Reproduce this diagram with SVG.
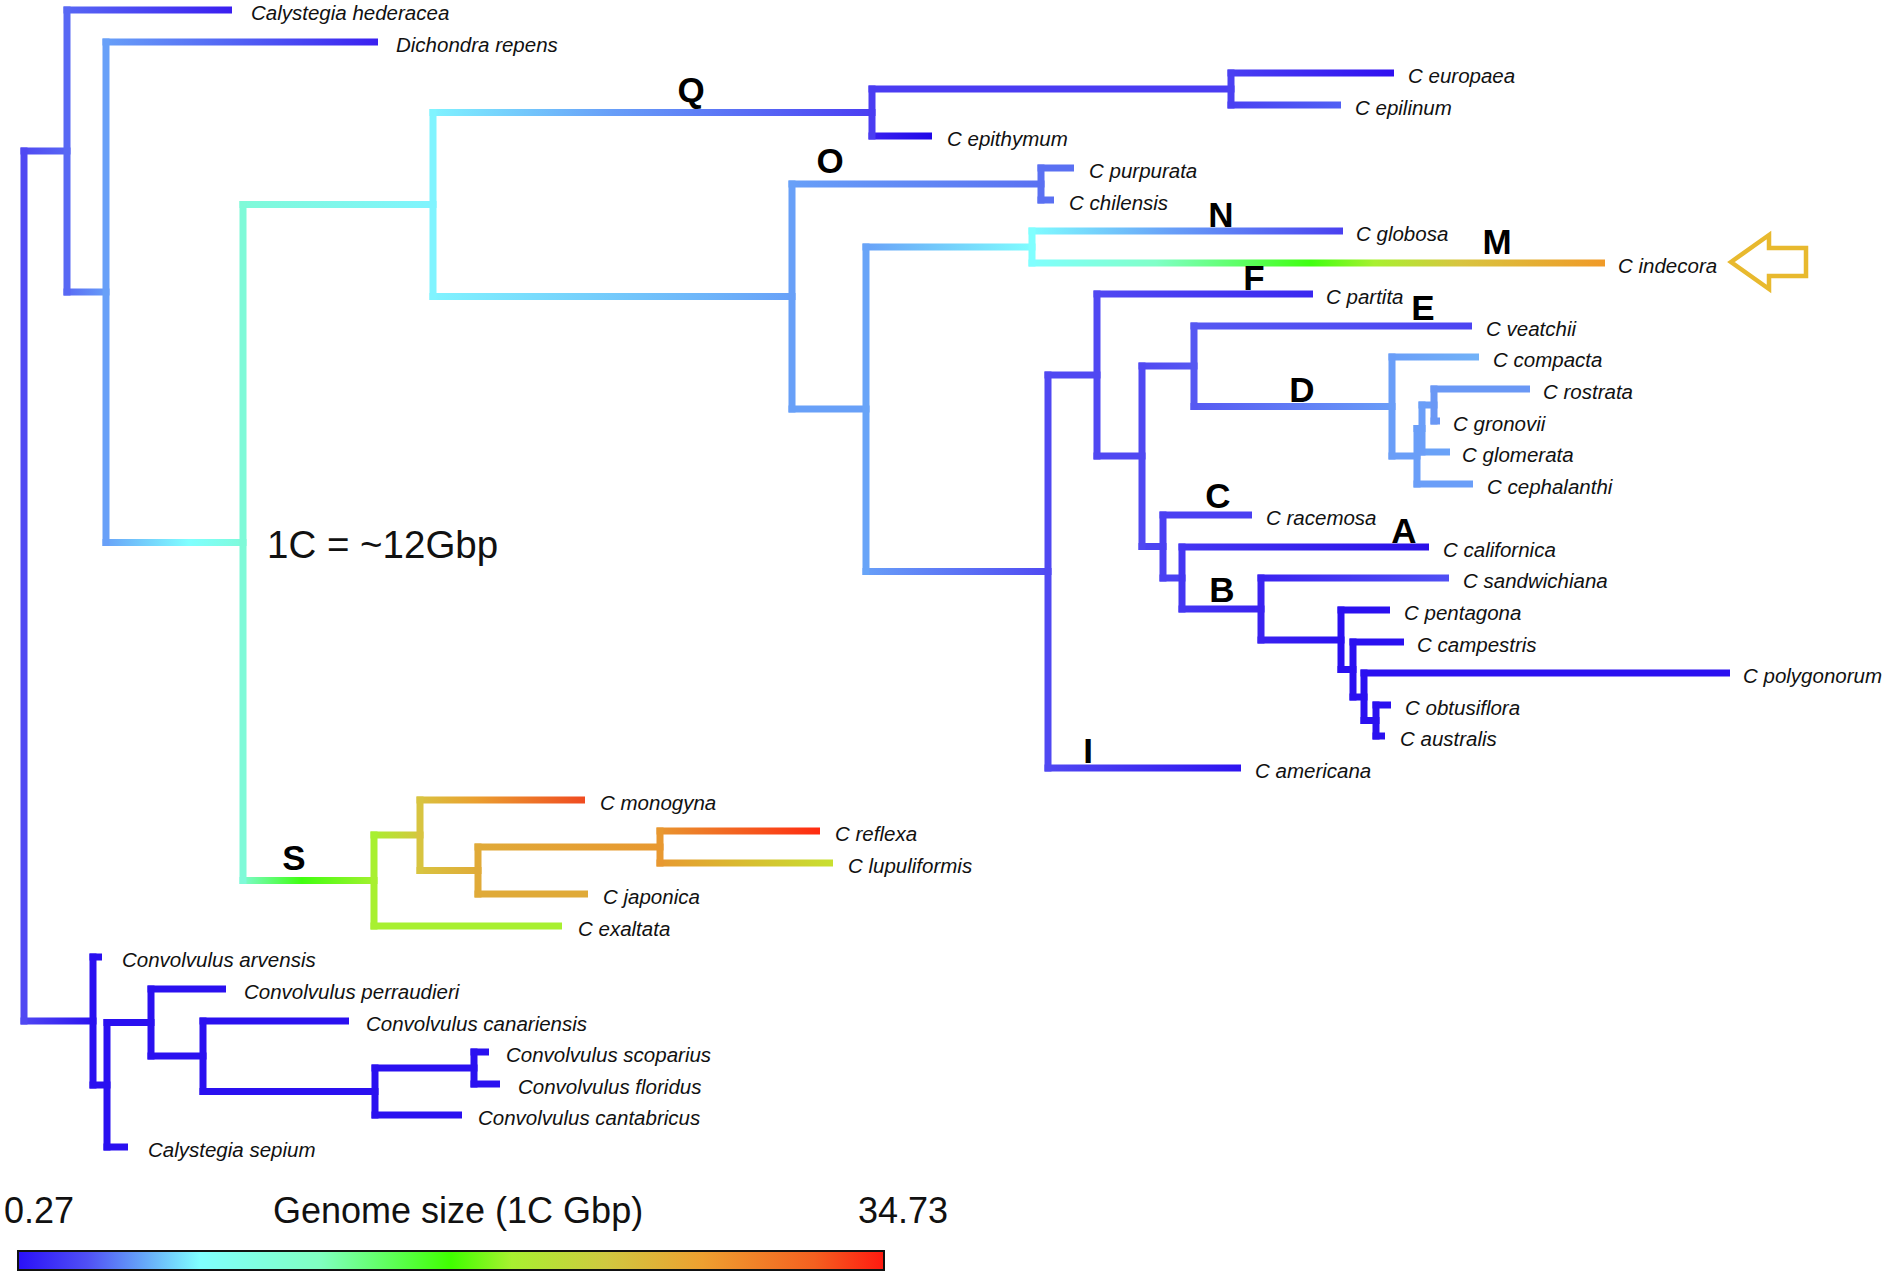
<svg xmlns="http://www.w3.org/2000/svg" width="1889" height="1277" viewBox="0 0 1889 1277">
<style>
.t{font-family:"Liberation Sans",Arial,sans-serif;font-style:italic;font-size:20.5px;fill:#111}
.cl{font-family:"Liberation Sans",Arial,sans-serif;font-weight:bold;font-size:35px;text-anchor:middle;fill:#000}
.lg{font-family:"Liberation Sans",Arial,sans-serif;font-size:36px;fill:#111}
.big{font-family:"Liberation Sans",Arial,sans-serif;font-size:38.5px;fill:#111}
</style>
<defs>
<linearGradient id="bar"><stop offset="0" stop-color="#2a10f8"/><stop offset="0.08" stop-color="#5050f5"/><stop offset="0.14" stop-color="#64a0f8"/><stop offset="0.21" stop-color="#80ffff"/><stop offset="0.35" stop-color="#80ffc0"/><stop offset="0.5" stop-color="#40ff00"/><stop offset="0.57" stop-color="#a8f030"/><stop offset="0.68" stop-color="#d0c840"/><stop offset="0.79" stop-color="#eea030"/><stop offset="0.92" stop-color="#f46020"/><stop offset="1" stop-color="#ff1a10"/></linearGradient>
<linearGradient id="g1"><stop offset="0" stop-color="#5048f2"/><stop offset="1" stop-color="#5868f4"/></linearGradient>
<linearGradient id="g2"><stop offset="0" stop-color="#5868f4"/><stop offset="1" stop-color="#3a1ef0"/></linearGradient>
<linearGradient id="g3"><stop offset="0" stop-color="#5868f4"/><stop offset="1" stop-color="#68a0f8"/></linearGradient>
<linearGradient id="g4"><stop offset="0" stop-color="#68a0f8"/><stop offset="1" stop-color="#3a20f0"/></linearGradient>
<linearGradient id="g5"><stop offset="0" stop-color="#68a0f8"/><stop offset="0.6" stop-color="#80ffff"/><stop offset="1" stop-color="#7ffad8"/></linearGradient>
<linearGradient id="g6"><stop offset="0" stop-color="#7ffad8"/><stop offset="1" stop-color="#80f4ff"/></linearGradient>
<linearGradient id="g7"><stop offset="0" stop-color="#80f4ff"/><stop offset="0.4" stop-color="#68a0f8"/><stop offset="1" stop-color="#4a3cf2"/></linearGradient>
<linearGradient id="g9"><stop offset="0" stop-color="#4a40f2"/><stop offset="1" stop-color="#3010f0"/></linearGradient>
<linearGradient id="g10"><stop offset="0" stop-color="#4a40f2"/><stop offset="1" stop-color="#5060f4"/></linearGradient>
<linearGradient id="g11"><stop offset="0" stop-color="#3a20f0"/><stop offset="1" stop-color="#2008e8"/></linearGradient>
<linearGradient id="g12"><stop offset="0" stop-color="#80f4ff"/><stop offset="1" stop-color="#68a0f8"/></linearGradient>
<linearGradient id="g13"><stop offset="0" stop-color="#68a0f8"/><stop offset="1" stop-color="#5a70f2"/></linearGradient>
<linearGradient id="g17"><stop offset="0" stop-color="#68a0f8"/><stop offset="1" stop-color="#80ffff"/></linearGradient>
<linearGradient id="g18"><stop offset="0" stop-color="#80ffff"/><stop offset="0.45" stop-color="#68a0f8"/><stop offset="1" stop-color="#4a40f0"/></linearGradient>
<linearGradient id="g19"><stop offset="0" stop-color="#80ffff"/><stop offset="0.22" stop-color="#80ffc8"/><stop offset="0.49" stop-color="#40ff10"/><stop offset="0.6" stop-color="#a8f030"/><stop offset="0.75" stop-color="#d8c440"/><stop offset="1" stop-color="#f09a28"/></linearGradient>
<linearGradient id="g20"><stop offset="0" stop-color="#68a0f8"/><stop offset="1" stop-color="#5048f2"/></linearGradient>
<linearGradient id="g22"><stop offset="0" stop-color="#5048f2"/><stop offset="1" stop-color="#2e14f0"/></linearGradient>
<linearGradient id="g23"><stop offset="0" stop-color="#5048f2"/><stop offset="1" stop-color="#3a28f0"/></linearGradient>
<linearGradient id="g25"><stop offset="0" stop-color="#5048f2"/><stop offset="1" stop-color="#5658f2"/></linearGradient>
<linearGradient id="g26"><stop offset="0" stop-color="#5658f2"/><stop offset="1" stop-color="#4c44f2"/></linearGradient>
<linearGradient id="g27"><stop offset="0" stop-color="#5658f2"/><stop offset="1" stop-color="#6a9ef8"/></linearGradient>
<linearGradient id="g28"><stop offset="0" stop-color="#6a9ef8"/><stop offset="1" stop-color="#72b2f8"/></linearGradient>
<linearGradient id="g39"><stop offset="0" stop-color="#4436f2"/><stop offset="1" stop-color="#2a10e8"/></linearGradient>
<linearGradient id="g40"><stop offset="0" stop-color="#4436f2"/><stop offset="1" stop-color="#3a22f0"/></linearGradient>
<linearGradient id="g41"><stop offset="0" stop-color="#3a22f0"/><stop offset="1" stop-color="#5050f4"/></linearGradient>
<linearGradient id="g42"><stop offset="0" stop-color="#3a22f0"/><stop offset="1" stop-color="#2a10f0"/></linearGradient>
<linearGradient id="g51"><stop offset="0" stop-color="#7ffad8"/><stop offset="0.45" stop-color="#40ff10"/><stop offset="1" stop-color="#a8f030"/></linearGradient>
<linearGradient id="g53"><stop offset="0" stop-color="#a8f030"/><stop offset="1" stop-color="#d8c440"/></linearGradient>
<linearGradient id="g54"><stop offset="0" stop-color="#d8c440"/><stop offset="0.35" stop-color="#eaa030"/><stop offset="1" stop-color="#f04a20"/></linearGradient>
<linearGradient id="g55"><stop offset="0" stop-color="#d8c440"/><stop offset="1" stop-color="#e0aa38"/></linearGradient>
<linearGradient id="g57"><stop offset="0" stop-color="#e0aa38"/><stop offset="1" stop-color="#e89830"/></linearGradient>
<linearGradient id="g58"><stop offset="0" stop-color="#e89830"/><stop offset="1" stop-color="#ff2a10"/></linearGradient>
<linearGradient id="g59"><stop offset="0" stop-color="#e89830"/><stop offset="1" stop-color="#c8e030"/></linearGradient>
<linearGradient id="g60"><stop offset="0" stop-color="#5048f2"/><stop offset="1" stop-color="#2a10f0"/></linearGradient>
</defs>
<rect width="1889" height="1277" fill="#fff"/>
<g id="connectors">
<rect x="20.5" y="147.5" width="50" height="7" fill="url(#g1)"/>
<rect x="63.5" y="6.5" width="168.5" height="7" fill="url(#g2)"/>
<rect x="63.5" y="288.5" width="46" height="7" fill="url(#g3)"/>
<rect x="102.5" y="38.5" width="275.5" height="7" fill="url(#g4)"/>
<rect x="102.5" y="539" width="144" height="7" fill="url(#g5)"/>
<rect x="239.5" y="201" width="197" height="7" fill="url(#g6)"/>
<rect x="429.5" y="109" width="446" height="7" fill="url(#g7)"/>
<rect x="868.5" y="85.5" width="366" height="7" fill="#4a3cf2"/>
<rect x="1227.5" y="69.5" width="166.5" height="7" fill="url(#g9)"/>
<rect x="1227.5" y="101.5" width="113.5" height="7" fill="url(#g10)"/>
<rect x="868.5" y="132.5" width="63.5" height="7" fill="url(#g11)"/>
<rect x="429.5" y="293" width="366" height="7" fill="url(#g12)"/>
<rect x="788.5" y="180.5" width="256" height="7" fill="url(#g13)"/>
<rect x="1037.5" y="164.5" width="36.5" height="7" fill="#5a70f2"/>
<rect x="1037.5" y="196.5" width="16.5" height="7" fill="#5a70f2"/>
<rect x="788.5" y="405.5" width="81" height="7" fill="#68a0f8"/>
<rect x="862.5" y="243.5" width="173" height="7" fill="url(#g17)"/>
<rect x="1028.5" y="227.5" width="314.5" height="7" fill="url(#g18)"/>
<rect x="1028.5" y="259.5" width="576.5" height="7" fill="url(#g19)"/>
<rect x="862.5" y="568" width="189" height="7" fill="url(#g20)"/>
<rect x="1044.5" y="371.5" width="56" height="7" fill="#5048f2"/>
<rect x="1044.5" y="764.5" width="196.5" height="7" fill="url(#g22)"/>
<rect x="1093.5" y="290.5" width="219.5" height="7" fill="url(#g23)"/>
<rect x="1093.5" y="452.5" width="52" height="7" fill="#5048f2"/>
<rect x="1138.5" y="362.5" width="59" height="7" fill="url(#g25)"/>
<rect x="1190.5" y="322.5" width="281.5" height="7" fill="url(#g26)"/>
<rect x="1190.5" y="403" width="205" height="7" fill="url(#g27)"/>
<rect x="1388.5" y="353.5" width="90.5" height="7" fill="url(#g28)"/>
<rect x="1388.5" y="452.5" width="32" height="7" fill="#6a9ef8"/>
<rect x="1413.5" y="425" width="12" height="7" fill="#6a9ef8"/>
<rect x="1413.5" y="480.5" width="59.5" height="7" fill="#6a9ef8"/>
<rect x="1418.5" y="401.5" width="19" height="7" fill="#6a9ef8"/>
<rect x="1418.5" y="448.5" width="31.5" height="7" fill="#6aa2f8"/>
<rect x="1430.5" y="385.5" width="99.5" height="7" fill="#6a98f5"/>
<rect x="1430.5" y="417.5" width="9.5" height="7" fill="#6a98f5"/>
<rect x="1138.5" y="543" width="28" height="7" fill="#4c44f2"/>
<rect x="1159.5" y="511.5" width="92.5" height="7" fill="#4a40f2"/>
<rect x="1159.5" y="574.5" width="26" height="7" fill="#4a40f2"/>
<rect x="1178.5" y="543.5" width="250.5" height="7" fill="url(#g39)"/>
<rect x="1178.5" y="605.5" width="86" height="7" fill="url(#g40)"/>
<rect x="1257.5" y="574.5" width="191.5" height="7" fill="url(#g41)"/>
<rect x="1257.5" y="636.5" width="87" height="7" fill="url(#g42)"/>
<rect x="1337.5" y="606.5" width="52.5" height="7" fill="#2a10f0"/>
<rect x="1337.5" y="666" width="19" height="7" fill="#2a10f0"/>
<rect x="1349.5" y="638.5" width="54.5" height="7" fill="#2a10f0"/>
<rect x="1349.5" y="693.5" width="18" height="7" fill="#2a10f0"/>
<rect x="1360.5" y="669.5" width="369.5" height="7" fill="#2a10f0"/>
<rect x="1360.5" y="717" width="19" height="7" fill="#2a10f0"/>
<rect x="1372.5" y="701.5" width="18.5" height="7" fill="#2a10f0"/>
<rect x="1372.5" y="732.5" width="12.5" height="7" fill="#2a10f0"/>
<rect x="239.5" y="877" width="138" height="7" fill="url(#g51)"/>
<rect x="370.5" y="922.5" width="191.5" height="7" fill="#a8f030"/>
<rect x="370.5" y="831.5" width="53" height="7" fill="url(#g53)"/>
<rect x="416.5" y="796.5" width="168.5" height="7" fill="url(#g54)"/>
<rect x="416.5" y="867" width="65" height="7" fill="url(#g55)"/>
<rect x="474.5" y="890.5" width="113.5" height="7" fill="#e0aa38"/>
<rect x="474.5" y="843.5" width="189" height="7" fill="url(#g57)"/>
<rect x="656.5" y="827.5" width="163.5" height="7" fill="url(#g58)"/>
<rect x="656.5" y="859.5" width="176.5" height="7" fill="url(#g59)"/>
<rect x="20.5" y="1017.5" width="76" height="7" fill="url(#g60)"/>
<rect x="89.5" y="953.5" width="12.5" height="7" fill="#2a10f0"/>
<rect x="89.5" y="1081.5" width="21" height="7" fill="#2a10f0"/>
<rect x="103.5" y="1019" width="51" height="7" fill="#2a10f0"/>
<rect x="103.5" y="1143.5" width="24.5" height="7" fill="#2a10f0"/>
<rect x="147.5" y="985.5" width="78.5" height="7" fill="#2a10f0"/>
<rect x="147.5" y="1052.5" width="59" height="7" fill="#2a10f0"/>
<rect x="199.5" y="1017.5" width="149.5" height="7" fill="#2a10f0"/>
<rect x="199.5" y="1088" width="179" height="7" fill="#2a10f0"/>
<rect x="371.5" y="1064.5" width="106" height="7" fill="#2a10f0"/>
<rect x="371.5" y="1111.5" width="90.5" height="7" fill="#2a10f0"/>
<rect x="470.5" y="1048.5" width="18.5" height="7" fill="#2a10f0"/>
<rect x="470.5" y="1080.5" width="29.5" height="7" fill="#2a10f0"/>
<rect x="20.5" y="147.5" width="7" height="877" fill="#5048f2"/>
<rect x="63.5" y="6.5" width="7" height="289" fill="#5868f4"/>
<rect x="102.5" y="38.5" width="7" height="507.5" fill="#68a0f8"/>
<rect x="239.5" y="201" width="7" height="683" fill="#7ffad8"/>
<rect x="429.5" y="109" width="7" height="191" fill="#80f4ff"/>
<rect x="868.5" y="85.5" width="7" height="54" fill="#4a3cf2"/>
<rect x="1227.5" y="69.5" width="7" height="39" fill="#4a40f2"/>
<rect x="788.5" y="180.5" width="7" height="232" fill="#68a0f8"/>
<rect x="1037.5" y="164.5" width="7" height="39" fill="#5a70f2"/>
<rect x="862.5" y="243.5" width="7" height="331.5" fill="#68a4f8"/>
<rect x="1028.5" y="227.5" width="7" height="39" fill="#80ffff"/>
<rect x="1044.5" y="371.5" width="7" height="400" fill="#5048f2"/>
<rect x="1093.5" y="290.5" width="7" height="169" fill="#5048f2"/>
<rect x="1138.5" y="362.5" width="7" height="187.5" fill="#5048f2"/>
<rect x="1190.5" y="322.5" width="7" height="87.5" fill="#5658f2"/>
<rect x="1388.5" y="353.5" width="7" height="106" fill="#6a9ef8"/>
<rect x="1413.5" y="425" width="7" height="62.5" fill="#6a9ef8"/>
<rect x="1418.5" y="401.5" width="7" height="54" fill="#6a9ef8"/>
<rect x="1430.5" y="385.5" width="7" height="39" fill="#6a98f5"/>
<rect x="1159.5" y="511.5" width="7" height="70" fill="#4a40f2"/>
<rect x="1178.5" y="543.5" width="7" height="69" fill="#4436f2"/>
<rect x="1257.5" y="574.5" width="7" height="69" fill="#3a22f0"/>
<rect x="1337.5" y="606.5" width="7" height="66.5" fill="#2a10f0"/>
<rect x="1349.5" y="638.5" width="7" height="62" fill="#2a10f0"/>
<rect x="1360.5" y="669.5" width="7" height="54.5" fill="#2a10f0"/>
<rect x="1372.5" y="701.5" width="7" height="38" fill="#2a10f0"/>
<rect x="370.5" y="831.5" width="7" height="98" fill="#a8f030"/>
<rect x="416.5" y="796.5" width="7" height="77.5" fill="#d8c440"/>
<rect x="474.5" y="843.5" width="7" height="54" fill="#e0aa38"/>
<rect x="656.5" y="827.5" width="7" height="39" fill="#e89830"/>
<rect x="89.5" y="953.5" width="7" height="135" fill="#2a10f0"/>
<rect x="103.5" y="1019" width="7" height="131.5" fill="#2a10f0"/>
<rect x="147.5" y="985.5" width="7" height="74" fill="#2a10f0"/>
<rect x="199.5" y="1017.5" width="7" height="77.5" fill="#2a10f0"/>
<rect x="371.5" y="1064.5" width="7" height="54" fill="#2a10f0"/>
<rect x="470.5" y="1048.5" width="7" height="39" fill="#2a10f0"/>
</g>
<g id="clade-labels">
<text class="cl" x="691" y="102">Q</text>
<text class="cl" x="830" y="173">O</text>
<text class="cl" x="1221" y="227">N</text>
<text class="cl" x="1497" y="254">M</text>
<text class="cl" x="1254" y="290">F</text>
<text class="cl" x="1423" y="320">E</text>
<text class="cl" x="1302" y="402">D</text>
<text class="cl" x="1218" y="508">C</text>
<text class="cl" x="1404" y="543">A</text>
<text class="cl" x="1222" y="602">B</text>
<text class="cl" x="294" y="870">S</text>
<text class="cl" x="1088" y="763">I</text>
</g>
<g id="calystegia-hederacea"><text class="t" x="251" y="19.5">Calystegia hederacea</text></g>
<g id="dichondra-repens"><text class="t" x="396" y="51.5">Dichondra repens</text></g>
<g id="c-europaea"><text class="t" x="1408" y="82.5">C europaea</text></g>
<g id="c-epilinum"><text class="t" x="1355" y="114.5">C epilinum</text></g>
<g id="c-epithymum"><text class="t" x="947" y="145.5">C epithymum</text></g>
<g id="c-purpurata"><text class="t" x="1089" y="177.5">C purpurata</text></g>
<g id="c-chilensis"><text class="t" x="1069" y="209.5">C chilensis</text></g>
<g id="c-globosa"><text class="t" x="1356" y="240.5">C globosa</text></g>
<g id="c-indecora"><text class="t" x="1618" y="272.5">C indecora</text>
<polygon points="1731,262 1769,235 1769,248 1806,248 1806,276 1769,276 1769,289" fill="none" stroke="#e8b92e" stroke-width="4.5"/></g>
<g id="c-partita"><text class="t" x="1326" y="303.5">C partita</text></g>
<g id="c-veatchii"><text class="t" x="1486" y="335.5">C veatchii</text></g>
<g id="c-compacta"><text class="t" x="1493" y="366.5">C compacta</text></g>
<g id="c-rostrata"><text class="t" x="1543" y="398.5">C rostrata</text></g>
<g id="c-gronovii"><text class="t" x="1453" y="430.5">C gronovii</text></g>
<g id="c-glomerata"><text class="t" x="1462" y="461.5">C glomerata</text></g>
<g id="c-cephalanthi"><text class="t" x="1487" y="493.5">C cephalanthi</text></g>
<g id="c-racemosa"><text class="t" x="1266" y="524.5">C racemosa</text></g>
<g id="c-californica"><text class="t" x="1443" y="556.5">C californica</text></g>
<g id="c-sandwichiana"><text class="t" x="1463" y="587.5">C sandwichiana</text></g>
<g id="c-pentagona"><text class="t" x="1404" y="619.5">C pentagona</text></g>
<g id="c-campestris"><text class="t" x="1417" y="651.5">C campestris</text></g>
<g id="c-polygonorum"><text class="t" x="1743" y="682.5">C polygonorum</text></g>
<g id="c-obtusiflora"><text class="t" x="1405" y="714.5">C obtusiflora</text></g>
<g id="c-australis"><text class="t" x="1400" y="745.5">C australis</text></g>
<g id="c-americana"><text class="t" x="1255" y="777.5">C americana</text></g>
<g id="c-monogyna"><text class="t" x="600" y="809.5">C monogyna</text></g>
<g id="c-reflexa"><text class="t" x="835" y="840.5">C reflexa</text></g>
<g id="c-lupuliformis"><text class="t" x="848" y="872.5">C lupuliformis</text></g>
<g id="c-japonica"><text class="t" x="603" y="903.5">C japonica</text></g>
<g id="c-exaltata"><text class="t" x="578" y="935.5">C exaltata</text></g>
<g id="convolvulus-arvensis"><text class="t" x="122" y="966.5">Convolvulus arvensis</text></g>
<g id="convolvulus-perraudieri"><text class="t" x="244" y="998.5">Convolvulus perraudieri</text></g>
<g id="convolvulus-canariensis"><text class="t" x="366" y="1030.5">Convolvulus canariensis</text></g>
<g id="convolvulus-scoparius"><text class="t" x="506" y="1061.5">Convolvulus scoparius</text></g>
<g id="convolvulus-floridus"><text class="t" x="518" y="1093.5">Convolvulus floridus</text></g>
<g id="convolvulus-cantabricus"><text class="t" x="478" y="1124.5">Convolvulus cantabricus</text></g>
<g id="calystegia-sepium"><text class="t" x="148" y="1156.5">Calystegia sepium</text></g>
<g id="annotation"><text class="big" x="267" y="558">1C = ~12Gbp</text></g>
<g id="legend">
<text class="lg" x="4" y="1223">0.27</text>
<text class="lg" x="273" y="1223">Genome size (1C Gbp)</text>
<text class="lg" x="948" y="1223" text-anchor="end">34.73</text>
<rect x="18" y="1251" width="866" height="19" fill="url(#bar)" stroke="#111" stroke-width="2"/>
</g>
</svg>
